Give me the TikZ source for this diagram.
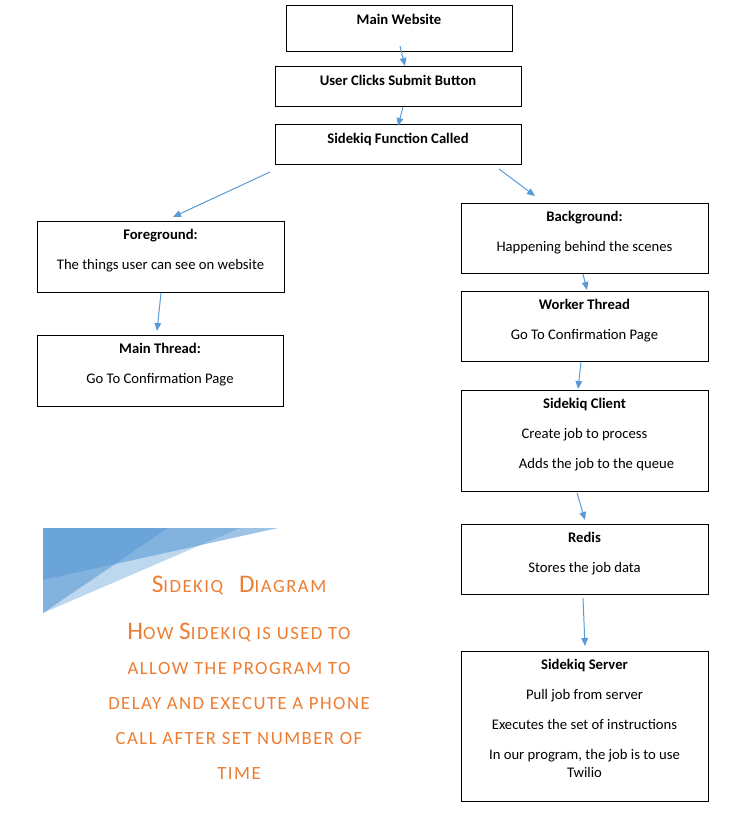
\documentclass[tikz,border=0pt]{standalone}
\usepackage{fontspec}
\setmainfont{Carlito}
\newfontfamily\titlefont[LetterSpace=8]{Carlito}
\usetikzlibrary{calc, arrows.meta, positioning}
\definecolor{flowblue}{RGB}{91,155,213}
\definecolor{titleorange}{RGB}{237,125,49}
\newcommand{\tcap}[1]{{\fontsize{19}{19}\selectfont #1}}

\begin{document}
\begin{tikzpicture}[x=0.75pt, y=-0.75pt,
        box/.style={draw, line width=0.75pt, inner sep=0pt, outer sep=0pt, anchor=north west},
        txt/.style={anchor=north, align=center, inner sep=0pt, font=\fontsize{11}{22.5}\selectfont},
        flow/.style={flowblue, line width=0.75pt, -{Triangle[length=6pt,width=5pt]}},
        titletxt/.style={anchor=north, align=center, inner sep=0pt, text=titleorange,
            font=\titlefont\fontsize{14}{26.25}\selectfont}]
        \useasboundingbox (0,0) rectangle (755,813);

        % blue corner decoration
        \fill[flowblue, opacity=0.4] (43,528) -- (240,528) -- (43,613) -- cycle;
        \fill[flowblue, opacity=0.6] (43,528) -- (278,528) -- (43,580) -- cycle;
        \fill[flowblue, opacity=0.6] (43,528) -- (168,528) -- (43,613) -- cycle;

        % boxes
        \foreach \n/\x/\y/\w/\h in
        {mw/286/6/226/46,
            uc/275/67/246/40,
            sf/275/125/246/40,
            fg/37/221/247/71,
            mt/37/335/246/71,
            bg/461/203/247/70,
            wt/461/291/247/70,
            sc/461/390/247/101,
            rd/461/524/247/70,
            ss/461/651/247/150}
        {
            \node[box, minimum width={0.75*\w}, minimum height={0.75*\h}] (\n) at (\x,\y) {};
        };

        \node[txt] (mwtxt) at ($(mw.north)+(0,7.5)$) {\textbf{Main Website}};
        \node[txt] (uctxt) at ($(uc.north)+(0,7.5)$) {\textbf{User Clicks Submit Button}};
        \node[txt] (sftxt) at ($(sf.north)+(0,7.5)$) {\textbf{Sidekiq Function Called}};
        \node[txt] (fgtxt) at ($(fg.north)+(0,7.5)$) {\textbf{Foreground:}\\The things user can see on website};
        \node[txt] (mttxt) at ($(mt.north)+(0,7.5)$) {\textbf{Main Thread:}\\Go To Confirmation Page};
        \node[txt] (bgtxt) at ($(bg.north)+(0,7.5)$) {\textbf{Background:}\\Happening behind the scenes};
        \node[txt] (wttxt) at ($(wt.north)+(0,7.5)$) {\textbf{Worker Thread}\\Go To Confirmation Page};
        \node[txt] (sctxt) at ($(sc.north)+(0,7.5)$) {\textbf{Sidekiq Client}\\Create job to process\\\hspace*{18pt}Adds the job to the queue};
        \node[txt] (rdtxt) at ($(rd.north)+(0,7.5)$) {\textbf{Redis}\\Stores the job data};
        \node[txt] (sstxt) at ($(ss.north)+(0,7.5)$) {\textbf{Sidekiq Server}\\Pull job from server\\Executes the set of instructions\\In our program, the job is to use\\[-9pt]Twilio};

        % arrows
        \foreach \a/\ax/\ay/\b/\bx/\by in
        {mw.south/1/-6/uc.north/7/-1,
            uc.south/5/0/sf.north/0/1,
            sf.south west/-5/7/fg.north/12.5/-4,
            sf.south east/-22/4/bg.north/-49.5/-7,
            fg.south/0.5/1/mt.north/-3/-4,
            bg.south/-1.5/1/wt.north/2.5/-1,
            wt.south/-3.5/1/sc.north/-6.5/-1,
            sc.south/-7.5/2/rd.north/0.5/-4,
            rd.south/-1.5/4/ss.north/0.5/-5}
        {
            \draw[flow] ($(\a)+(\ax,\ay)$) -- ($(\b)+(\bx,\by)$);
        };

        % title
        \node[titletxt] (title) at (239,576) {\tcap{S}IDEKIQ\hspace{12pt}\tcap{D}IAGRAM\\[9pt]
            \tcap{H}OW \tcap{S}IDEKIQ IS USED TO\\ALLOW THE PROGRAM TO\\
            DELAY AND EXECUTE A PHONE\\CALL AFTER SET NUMBER OF\\TIME};
\end{tikzpicture}
\end{document}
